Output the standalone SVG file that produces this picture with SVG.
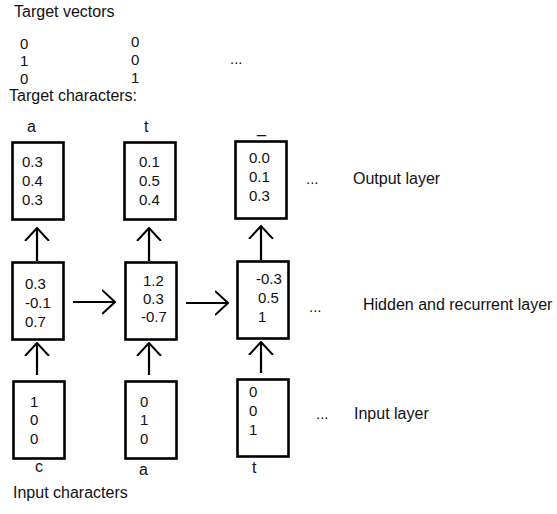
<svg xmlns="http://www.w3.org/2000/svg" width="557" height="514" viewBox="0 0 557 514">
<style>
text{font-family:"Liberation Sans",Arial,sans-serif;fill:#111}
.lbl{font-size:16px}
.num{font-size:15px}
.box{fill:none;stroke:#000;stroke-width:2.6}
.conn{stroke:#000;stroke-width:2.2;fill:none}
</style>
<defs>
<marker id="ah" viewBox="0 0 14 26" refX="13" refY="13" markerWidth="14" markerHeight="26" markerUnits="userSpaceOnUse" orient="auto">
<path d="M0,1 L13,13 L0,25" fill="none" stroke="#000" stroke-width="2"/>
</marker>
</defs>
<rect width="557" height="514" fill="#fff"/>

<g id="target-vectors">
<text class="lbl" x="14" y="17">Target vectors</text>
<text class="num" x="20" y="49">0</text>
<text class="num" x="20" y="66">1</text>
<text class="num" x="20" y="84">0</text>
<text class="num" x="131" y="47">0</text>
<text class="num" x="131" y="65">0</text>
<text class="num" x="131" y="83">1</text>
<text class="num" x="230" y="64">...</text>
</g>

<g id="target-characters">
<text class="lbl" x="9" y="101">Target characters:</text>
<text class="lbl" x="27" y="132">a</text>
<text class="lbl" x="144" y="132">t</text>
<text class="lbl" x="257" y="133">_</text>
</g>

<g id="out1">
<rect class="box" x="12.5" y="142.5" width="51" height="77"/>
<text class="num" x="22" y="167">0.3</text>
<text class="num" x="22" y="186">0.4</text>
<text class="num" x="22" y="205">0.3</text>
</g>
<g id="out2">
<rect class="box" x="124.5" y="142.5" width="51" height="77"/>
<text class="num" x="139" y="167">0.1</text>
<text class="num" x="139" y="186">0.5</text>
<text class="num" x="139" y="205">0.4</text>
</g>
<g id="out3">
<rect class="box" x="235.5" y="141.5" width="51" height="77"/>
<text class="num" x="249" y="163">0.0</text>
<text class="num" x="249" y="182">0.1</text>
<text class="num" x="249" y="201">0.3</text>
</g>
<g id="output-label">
<text class="num" x="306" y="184">...</text>
<text class="lbl" x="353" y="184">Output layer</text>
</g>

<g id="hid1">
<rect class="box" x="12.5" y="262.5" width="51" height="77"/>
<text class="num" x="25" y="289">0.3</text>
<text class="num" x="25" y="308">-0.1</text>
<text class="num" x="25" y="327">0.7</text>
</g>
<g id="hid2">
<rect class="box" x="125.5" y="262.5" width="51" height="77"/>
<text class="num" x="143" y="286">1.2</text>
<text class="num" x="143" y="304">0.3</text>
<text class="num" x="141" y="322">-0.7</text>
</g>
<g id="hid3">
<rect class="box" x="237.5" y="261.5" width="51" height="77"/>
<text class="num" x="256" y="284">-0.3</text>
<text class="num" x="258" y="303">0.5</text>
<text class="num" x="258" y="322">1</text>
</g>
<g id="hidden-label">
<text class="num" x="309" y="312">...</text>
<text class="lbl" x="363" y="310">Hidden and recurrent layer</text>
</g>

<g id="in1">
<rect class="box" x="13.5" y="381.5" width="51" height="77"/>
<text class="num" x="30" y="407">1</text>
<text class="num" x="30" y="425">0</text>
<text class="num" x="30" y="444">0</text>
</g>
<g id="in2">
<rect class="box" x="125.5" y="381.5" width="51" height="77"/>
<text class="num" x="140" y="407">0</text>
<text class="num" x="140" y="425">1</text>
<text class="num" x="140" y="444">0</text>
</g>
<g id="in3">
<rect class="box" x="237.5" y="379.5" width="51" height="77"/>
<text class="num" x="249" y="397">0</text>
<text class="num" x="249" y="416">0</text>
<text class="num" x="249" y="435">1</text>
</g>
<g id="input-label">
<text class="num" x="316" y="419">...</text>
<text class="lbl" x="354" y="419">Input layer</text>
</g>

<g id="input-characters">
<text class="lbl" x="35" y="472">c</text>
<text class="lbl" x="139" y="475">a</text>
<text class="lbl" x="252" y="473">t</text>
<text class="lbl" x="13" y="498">Input characters</text>
</g>

<g id="connectors">
<path class="conn" d="M37,261 L37,228" marker-end="url(#ah)"/>
<path class="conn" d="M149,261 L149,228" marker-end="url(#ah)"/>
<path class="conn" d="M261,260 L261,226" marker-end="url(#ah)"/>
<path class="conn" d="M73,302 L115,302" marker-end="url(#ah)"/>
<path class="conn" d="M186,303 L228,303" marker-end="url(#ah)"/>
<path class="conn" d="M37,375 L37,343" marker-end="url(#ah)"/>
<path class="conn" d="M149,375 L149,343" marker-end="url(#ah)"/>
<path class="conn" d="M261,373 L261,342" marker-end="url(#ah)"/>
</g>
</svg>
